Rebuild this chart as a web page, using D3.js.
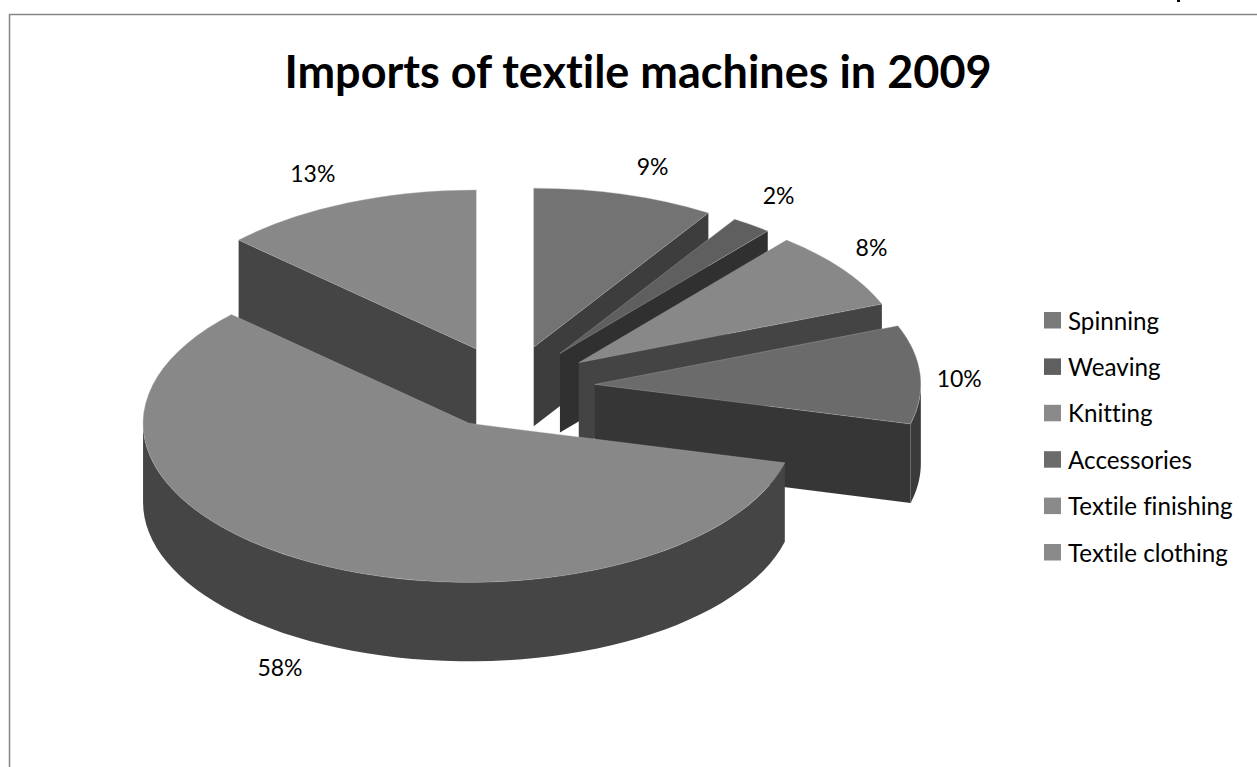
<!DOCTYPE html>
<html>
<head>
<meta charset="utf-8">
<script src="https://cdn.jsdelivr.net/npm/d3@7"></script>
<style>
  html, body { margin: 0; padding: 0; background: #fff; overflow: hidden; }
  text { font-family: Lato, "Open Sans", sans-serif; fill: #000; font-variant-ligatures: none; }
</style>
</head>
<body>
<script>
// Textile machine import shares, 2009
const categories = ["Spinning", "Weaving", "Knitting", "Accessories", "Textile finishing", "Textile clothing"];
const shares = [9, 2, 8, 10, 58, 13];
const topColors = ["#737373", "#5f5f5f", "#888888", "#6b6b6b", "#888888", "#888888"];
const wallColors = ["#3d3d3d", "#303030", "#444444", "#363636", "#454545", "#454545"];
const swatchColors = ["#7a7a7a", "#5f5f5f", "#8a8a8a", "#6b6b6b", "#8a8a8a", "#8a8a8a"];

const width = 1257, height = 767;
const cx = 510, cy = 387;      // pie centre before the slices are pulled apart
const rx = 326, ry = 159;      // radii of the tilted disc
const depth = 79;              // thickness of the disc
const explode = 85;            // how far each slice is pulled out along its mid angle
const tilt = ry / rx;

const svg = d3.select("body").append("svg")
  .attr("width", width).attr("height", height)
  .style("display", "block");

// Frame around the chart, cut off by the right and bottom edges
svg.append("path")
  .attr("d", d3.line()([[9.5, height], [9.5, 14.5], [width, 14.5]]))
  .attr("fill", "none").attr("stroke", "#868686").attr("stroke-width", 1.5);

// Tail of a page header glyph clipped by the top edge
svg.append("rect")
  .attr("x", 1177).attr("y", 0).attr("width", 3).attr("height", 2)
  .attr("fill", "#000");

svg.append("text")
  .attr("x", 638).attr("y", 88)
  .attr("text-anchor", "middle")
  .attr("font-size", 45).attr("font-weight", 700)
  .text("Imports of textile machines in 2009");

const arcs = d3.pie().sort(null).value(d => d)(shares);

const slices = arcs.map((a, i) => {
  const mid = (a.startAngle + a.endAngle) / 2;
  return {
    ...a, i,
    ox: cx + explode * Math.sin(mid),
    oy: cy - explode * tilt * Math.cos(mid)
  };
});

// Paint from the back of the disc to the front
const paintOrder = [5, 0, 1, 2, 3, 4];
const topFace = d3.arc().innerRadius(0).outerRadius(rx);
const radialWall = d3.line();
const rimWall = d3.area()
  .x(t => rx * Math.sin(t))
  .y0(t => -ry * Math.cos(t))
  .y1(t => -ry * Math.cos(t) + depth);

const groups = svg.selectAll("g.slice")
  .data(paintOrder.map(i => slices[i]))
  .join("g")
  .attr("class", "slice")
  .attr("transform", d => `translate(${d.ox},${d.oy})`);

groups.each(function (d) {
  const g = d3.select(this);
  const wall = wallColors[d.i];
  const edge = t => {
    const x = rx * Math.sin(t), y = -ry * Math.cos(t);
    return [[0, 0], [x, y], [x, y + depth], [0, depth]];
  };
  // A cut face shows only when it turns toward the viewer
  if (Math.sin(d.startAngle) < -1e-6) {
    g.append("path").attr("d", radialWall(edge(d.startAngle)) + "Z").attr("fill", wall);
  }
  if (Math.sin(d.endAngle) > 1e-6) {
    g.append("path").attr("d", radialWall(edge(d.endAngle)) + "Z").attr("fill", wall);
  }
  // The rim shows on the lower half of the ellipse
  const from = Math.max(d.startAngle, Math.PI / 2);
  const to = Math.min(d.endAngle, 3 * Math.PI / 2);
  if (to > from) {
    const steps = d3.range(0, 61).map(k => from + (to - from) * k / 60);
    g.append("path").attr("d", rimWall(steps)).attr("fill", d.i === 3 ? "#3a3a3a" : wall);
    // Faint seam where a cut face meets the rim
    if (Math.sin(d.endAngle) > 1e-6) {
      const sx = rx * Math.sin(d.endAngle), sy = -ry * Math.cos(d.endAngle);
      g.append("path")
        .attr("d", radialWall([[sx, sy], [sx, sy + depth]]))
        .attr("stroke", "#6a6a6a").attr("stroke-width", 0.8);
    }
  }
  g.append("path")
    .attr("d", topFace(d))
    .attr("transform", `scale(1,${tilt})`)
    .attr("fill", topColors[d.i])
    .attr("stroke", "#b0b0b0")
    .attr("stroke-opacity", 0.6)
    .attr("stroke-width", 0.6)
    .attr("vector-effect", "non-scaling-stroke");
});

// Percent labels sit just outside the rim, nudged clear of neighbours
const labelNudge = [[28, -29], [27, -30], [29, -22], [39, 3.5], [-32, 104.5], [-34, -30]];
svg.selectAll("text.pct")
  .data(slices)
  .join("text")
  .attr("class", "pct")
  .attr("text-anchor", "middle")
  .attr("dominant-baseline", "central")
  .attr("font-size", 23)
  .attr("x", d => d.ox + rx * Math.sin((d.startAngle + d.endAngle) / 2) + labelNudge[d.i][0])
  .attr("y", d => d.oy - ry * Math.cos((d.startAngle + d.endAngle) / 2) + labelNudge[d.i][1])
  .text(d => d.data + "%");

// Legend
const legendY = d3.scalePoint().domain(categories).range([320, 552]);
const legend = svg.selectAll("g.key").data(categories).join("g")
  .attr("class", "key")
  .attr("transform", d => `translate(1044,${legendY(d)})`);
legend.append("rect")
  .attr("x", 0).attr("y", -8).attr("width", 17).attr("height", 16.5)
  .attr("fill", (d, i) => swatchColors[i]);
legend.append("text")
  .attr("x", 24).attr("dominant-baseline", "central")
  .attr("font-size", 24.2)
  .text(d => d);
</script>
</body>
</html>
